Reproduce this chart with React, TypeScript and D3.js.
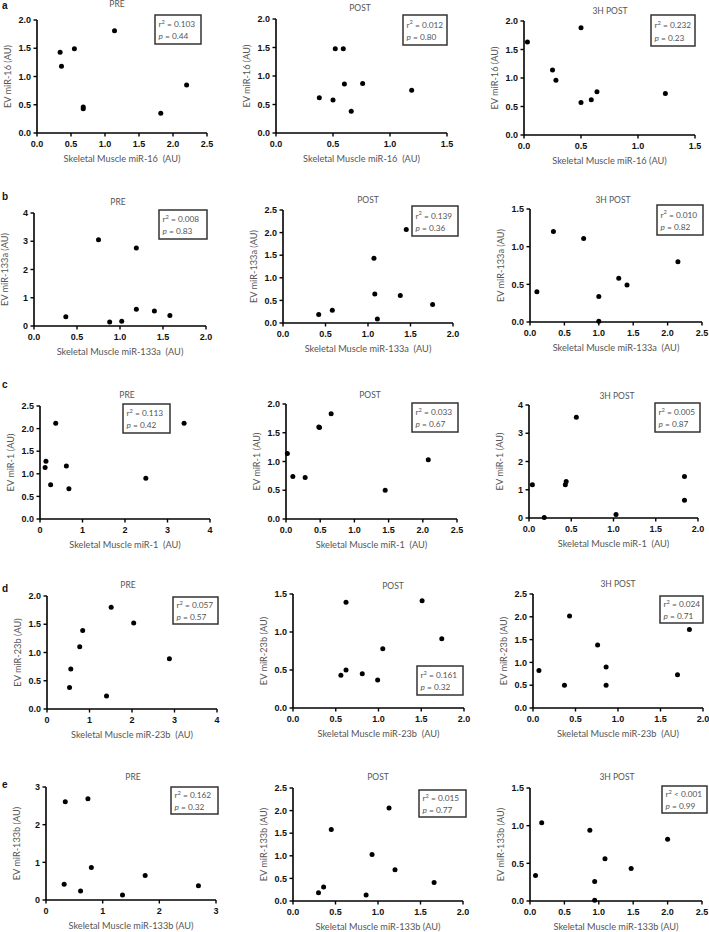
import React from "react";
import * as d3 from "d3";

// ---------- data (x = skeletal muscle, y = EV) ----------
const aPreX = [0.34, 0.36, 0.55, 0.68, 0.68, 1.14, 1.82, 2.2];
const aPreY = [1.43, 1.18, 1.49, 0.46, 0.43, 1.81, 0.35, 0.85];
const aPostX = [0.38, 0.5, 0.52, 0.59, 0.6, 0.66, 0.76, 1.19];
const aPostY = [0.62, 0.58, 1.48, 1.48, 0.86, 0.38, 0.87, 0.75];
const a3hX = [0.03, 0.25, 0.28, 0.5, 0.5, 0.59, 0.64, 1.24];
const a3hY = [1.63, 1.14, 0.96, 1.88, 0.57, 0.62, 0.76, 0.73];

const bPreX = [0.37, 0.75, 0.88, 1.02, 1.19, 1.19, 1.4, 1.58];
const bPreY = [0.33, 3.05, 0.14, 0.17, 2.76, 0.59, 0.53, 0.37];
const bPostX = [0.42, 0.58, 1.07, 1.08, 1.11, 1.38, 1.45, 1.76];
const bPostY = [0.19, 0.28, 1.43, 0.64, 0.09, 0.61, 2.07, 0.41];
const b3hX = [0.1, 0.34, 0.78, 1.0, 1.0, 1.29, 1.41, 2.15];
const b3hY = [0.4, 1.2, 1.11, 0.34, 0.01, 0.58, 0.49, 0.8];

const cPreX = [0.12, 0.14, 0.25, 0.37, 0.62, 0.68, 2.49, 3.39];
const cPreY = [1.14, 1.28, 0.76, 2.12, 1.17, 0.67, 0.9, 2.12];
const cPostX = [0.02, 0.1, 0.28, 0.48, 0.49, 0.66, 1.45, 2.08];
const cPostY = [1.14, 0.74, 0.72, 1.6, 1.59, 1.83, 0.5, 1.03];
const c3hX = [0.04, 0.18, 0.43, 0.44, 0.56, 1.03, 1.84, 1.84];
const c3hY = [1.18, 0.02, 1.18, 1.29, 3.57, 0.12, 1.47, 0.63];

const dPreX = [0.53, 0.56, 0.77, 0.84, 1.4, 1.51, 2.04, 2.88];
const dPreY = [0.38, 0.71, 1.1, 1.39, 0.23, 1.8, 1.52, 0.89];
const dPostX = [0.56, 0.62, 0.62, 0.81, 0.99, 1.05, 1.51, 1.74];
const dPostY = [0.43, 0.5, 1.39, 0.45, 0.37, 0.78, 1.41, 0.91];
const d3hX = [0.07, 0.37, 0.43, 0.76, 0.86, 0.86, 1.7, 1.84];
const d3hY = [0.82, 0.5, 2.02, 1.38, 0.9, 0.5, 0.73, 1.72];

const ePreX = [0.32, 0.34, 0.61, 0.74, 0.8, 1.35, 1.75, 2.69];
const ePreY = [0.42, 2.61, 0.24, 2.69, 0.86, 0.13, 0.65, 0.38];
const ePostX = [0.3, 0.36, 0.45, 0.86, 0.93, 1.13, 1.2, 1.66];
const ePostY = [0.18, 0.31, 1.58, 0.13, 1.03, 2.06, 0.69, 0.41];
const e3hX = [0.08, 0.17, 0.87, 0.94, 0.94, 1.09, 1.47, 2.0];
const e3hY = [0.34, 1.04, 0.94, 0.26, 0.01, 0.56, 0.43, 0.82];

const rowLetters = ["a", "b", "c", "d", "e"];
const mirNames = ["miR-16", "miR-133a", "miR-1", "miR-23b", "miR-133b"];
const phases = ["PRE", "POST", "3H POST"];
const xTitles = [
  ["Skeletal Muscle miR-16  (AU)", "Skeletal Muscle miR-16  (AU)", "Skeletal Muscle miR-16 (AU)"],
  ["Skeletal Muscle miR-133a  (AU)", "Skeletal Muscle miR-133a  (AU)", "Skeletal Muscle miR-133a  (AU)"],
  ["Skeletal Muscle miR-1  (AU)", "Skeletal Muscle miR-1  (AU)", "Skeletal Muscle miR-1  (AU)"],
  ["Skeletal Muscle miR-23b  (AU)", "Skeletal Muscle miR-23b  (AU)", "Skeletal Muscle miR-23b  (AU)"],
  ["Skeletal Muscle miR-133b (AU)", "Skeletal Muscle miR-133b (AU)", "Skeletal Muscle miR-133b (AU)"],
];
const r2Labels = [
  ["= 0.103", "= 0.012", "= 0.232"],
  ["= 0.008", "= 0.139", "= 0.010"],
  ["= 0.113", "= 0.033", "= 0.005"],
  ["= 0.057", "= 0.161", "= 0.024"],
  ["= 0.162", "= 0.015", "< 0.001"],
];
const pLabels = [
  ["0.44", "0.80", "0.23"],
  ["0.83", "0.36", "0.82"],
  ["0.42", "0.67", "0.87"],
  ["0.57", "0.32", "0.71"],
  ["0.32", "0.77", "0.99"],
];
const xMax = [
  [2.5, 1.5, 1.5],
  [2.0, 2.0, 2.5],
  [4, 2.5, 2.0],
  [4, 2.0, 2.0],
  [3, 2.0, 2.5],
];
const yMax = [
  [2.0, 2.0, 2.0],
  [4, 2.5, 1.5],
  [2.5, 2.0, 4],
  [2.0, 1.5, 2.5],
  [3, 2.5, 1.5],
];
const xInteger = [
  [false, false, false],
  [false, false, false],
  [true, false, false],
  [true, false, false],
  [true, false, false],
];
const yInteger = [
  [false, false, false],
  [true, false, false],
  [false, false, true],
  [false, false, false],
  [true, false, false],
];

const seriesX = [
  [aPreX, aPostX, a3hX],
  [bPreX, bPostX, b3hX],
  [cPreX, cPostX, c3hX],
  [dPreX, dPostX, d3hX],
  [ePreX, ePostX, e3hX],
];
const seriesY = [
  [aPreY, aPostY, a3hY],
  [bPreY, bPostY, b3hY],
  [cPreY, cPostY, c3hY],
  [dPreY, dPostY, d3hY],
  [ePreY, ePostY, e3hY],
];

// ---------- layout ----------
const frames = [
  [[37, 207, 20, 133], [276, 447, 19, 133], [524, 695, 21, 135]],
  [[34, 206, 213, 326], [283, 453, 210, 323], [530, 702, 209, 322]],
  [[40, 210, 406, 519], [286, 457, 404, 519], [529, 698, 405, 518]],
  [[47, 217, 596, 709], [293, 464, 594, 708], [533, 703, 594, 708]],
  [[46, 216, 787, 900], [293, 463, 788, 901], [530, 702, 788, 901]],
];
const titlePos = [
  [[117, 7], [360, 11], [610, 14]],
  [[118, 205], [368, 203], [613, 203]],
  [[127, 398], [370, 398], [617, 399]],
  [[128, 588], [393, 589], [618, 587]],
  [[133, 780], [378, 780], [617, 780]],
];
const boxPos = [
  [[155, 15, 201, 44], [403, 15, 447, 45], [651, 15, 695, 46]],
  [[159, 210, 207, 239], [412, 206, 458, 236], [657, 205, 703, 235]],
  [[123, 404, 170, 433], [412, 403, 458, 432], [655, 403, 700, 432]],
  [[173, 597, 218, 624], [417, 666, 463, 695], [660, 596, 703, 623]],
  [[171, 787, 218, 814], [419, 790, 466, 817], [662, 786, 707, 813]],
];
const letterY = [9, 200, 388, 592, 788];

const LABEL_FONT = "Lato, 'Open Sans', sans-serif";
const TICK_FONT = "'Liberation Sans', Arial, sans-serif";
const GREY = "#555";

function Panel({ r, c }: { r: number; c: number }) {
  const [L, R, T, B] = frames[r][c];
  const x = d3.scaleLinear().domain([0, xMax[r][c]]).range([L, R]);
  const y = d3.scaleLinear().domain([0, yMax[r][c]]).range([B, T]);
  const xStep = xInteger[r][c] ? 1 : 0.5;
  const yStep = yInteger[r][c] ? 1 : 0.5;
  const xTicks = d3.range(0, xMax[r][c] + 1e-9, xStep);
  const yTicks = d3.range(0, yMax[r][c] + 1e-9, yStep);
  const xf = xInteger[r][c] ? d3.format("d") : d3.format(".1f");
  const yf = yInteger[r][c] ? d3.format("d") : d3.format(".1f");
  const [tx, ty] = titlePos[r][c];
  const [bx0, by0, bx1, by1] = boxPos[r][c];
  const xs = seriesX[r][c];
  const ys = seriesY[r][c];
  const bh = by1 - by0;
  return (
    <g>
      <text x={tx} y={ty} textAnchor="middle" fontFamily={LABEL_FONT} fontSize={8.5} fill={GREY}>
        {phases[c]}
      </text>
      {/* axes */}
      <line x1={L} x2={L} y1={T} y2={B} stroke="#000" strokeWidth={1.6} />
      <line x1={L} x2={R} y1={B} y2={B} stroke="#000" strokeWidth={1.6} />
      {xTicks.map((t) => (
        <g key={"x" + t}>
          <line x1={x(t)} x2={x(t)} y1={B} y2={B + 3.5} stroke="#000" strokeWidth={1.4} />
          <text x={x(t)} y={B + 14} textAnchor="middle" fontFamily={TICK_FONT} fontWeight="bold" fontSize={9} fill="#111">
            {xf(t)}
          </text>
        </g>
      ))}
      {yTicks.map((t) => (
        <g key={"y" + t}>
          <line x1={L - 3.5} x2={L} y1={y(t)} y2={y(t)} stroke="#000" strokeWidth={1.4} />
          <text x={L - 6} y={y(t) + 3.2} textAnchor="end" fontFamily={TICK_FONT} fontWeight="bold" fontSize={9} fill="#111">
            {yf(t)}
          </text>
        </g>
      ))}
      <text
        x={(L + R) / 2}
        y={B + 29}
        textAnchor="middle"
        fontFamily={LABEL_FONT}
        fontSize={9.2}
        fill={GREY}
        style={{ whiteSpace: "pre" }}
      >
        {xTitles[r][c]}
      </text>
      <text
        transform={`translate(${L - 29},${(T + B) / 2}) rotate(-90)`}
        textAnchor="middle"
        fontFamily={LABEL_FONT}
        fontSize={9.2}
        fill={GREY}
        dy="0.35em"
      >
        {`EV ${mirNames[r]} (AU)`}
      </text>
      {/* points */}
      {xs.map((v, i) => (
        <circle key={i} cx={x(v)} cy={y(ys[i])} r={2.5} fill="#000" />
      ))}
      {/* stats box */}
      <rect x={bx0} y={by0} width={bx1 - bx0} height={bh} fill="#fff" stroke="#333" strokeWidth={1.5} />
      <text x={bx0 + 3.5} y={by0 + bh * 0.42} fontFamily={LABEL_FONT} fontSize={8.3} fill={GREY}>
        r
        <tspan dy={-3.2} fontSize={5.8}>2</tspan>
        <tspan dy={3.2}>{" " + r2Labels[r][c]}</tspan>
      </text>
      <text x={bx0 + 3.5} y={by0 + bh * 0.84} fontFamily={LABEL_FONT} fontSize={8.3} fill={GREY}>
        <tspan fontStyle="italic">p</tspan>
        {" = " + pLabels[r][c]}
      </text>
    </g>
  );
}

export default function App() {
  return (
    <svg
      width={709}
      height={932}
      viewBox="0 0 709 932"
      style={{ position: "absolute", left: 0, top: 0, background: "#fff" }}
    >
      <rect x={0} y={0} width={709} height={932} fill="#fff" />
      {rowLetters.map((l, r) => (
        <g key={l}>
          <text x={2} y={letterY[r]} fontFamily={TICK_FONT} fontWeight="bold" fontSize={10} fill="#111">
            {l}
          </text>
          {phases.map((_, c) => (
            <Panel key={c} r={r} c={c} />
          ))}
        </g>
      ))}
    </svg>
  );
}
